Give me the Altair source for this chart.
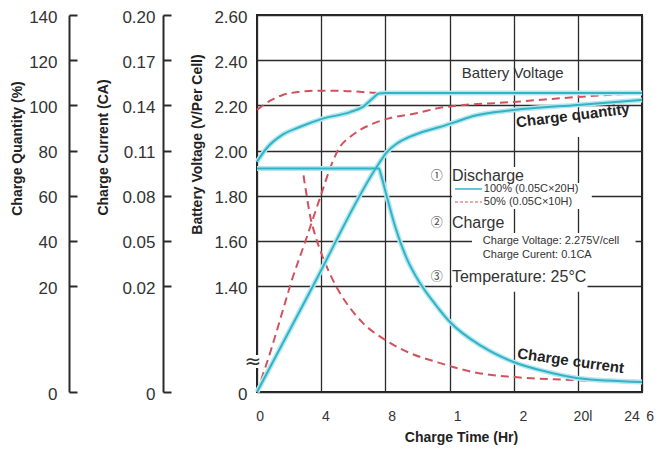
import altair as alt
import pandas as pd

# ---------------- data ----------------
hour_grid = [0, 4, 8, 12, 16, 20, 24]
x_label_text = ["0", "4", "8", "1", "2", "20l", "24", "6"]
x_label_hours = [0.19, 4.3, 8.42, 12.5, 16.61, 20.32, 23.38, 24.5]

quantity_ticks = [0, 20, 40, 60, 80, 100, 120, 140]
current_labels = ["0", "0.02", "0.05", "0.08", "0.11", "0.14", "0.17", "0.20"]
voltage_labels = ["0", "1.40", "1.60", "1.80", "2.00", "2.20", "2.40", "2.60"]

# battery voltage (V/cell)
v100_h = [0, 0.6, 1.6, 2.7, 4.05, 5.8, 6.6, 7.2, 7.6, 8.0, 24]
v100_v = [1.95, 2.01, 2.07, 2.105, 2.14, 2.17, 2.193, 2.23, 2.252, 2.255, 2.255]
v50_h = [0, 0.8, 1.6, 2.7, 3.7, 5.35, 7.2, 7.6, 24]
v50_v = [2.18, 2.22, 2.246, 2.26, 2.265, 2.264, 2.256, 2.255, 2.255]

# charge quantity (%)
q100_h = [0, 3.49, 7.54, 8.1, 8.7, 9.5, 10.4, 11.4, 12.6, 13.5, 16.0, 20.0, 24.0]
q100_q = [0, 20, 73.6, 79.3, 83, 86, 88.4, 90.4, 93.2, 95.3, 97.9, 100.2, 102.4]
q50_h = [0, 0.93, 1.62, 2.18, 3.0, 4.05, 4.6, 5.17, 5.8, 6.42, 7.2, 8.1, 10.0, 11.5, 16.0, 20.0, 24.0]
q50_q = [0, 8.5, 15.5, 22.7, 39.5, 61.6, 73, 81.6, 86, 89.1, 91.8, 94, 96.6, 99, 101.5, 103.7, 105.5]

# charge current (CA)
c100_h = [0, 7.6, 7.73, 8.1, 8.6, 9.35, 10.16, 11.1, 12.03, 14.08, 15.95, 18.07, 20.0, 24.0]
c100_c = [0.098, 0.098, 0.0938, 0.0791, 0.0599, 0.0379, 0.022, 0.0166, 0.0132, 0.0085, 0.0057, 0.0038, 0.0026, 0.0019]
c50_h = [0, 2.8, 2.99, 3.3, 3.68, 4.05, 4.55, 5.17, 5.8, 6.61, 8.1, 9.53, 11.2, 13.46, 15.95, 19.7, 24.0]
c50_c = [0.098, 0.098, 0.0871, 0.0672, 0.0519, 0.0406, 0.028, 0.01868, 0.01585, 0.013, 0.00962, 0.00736, 0.00566, 0.00377, 0.00283, 0.00226, 0.0017]


# map every physical unit onto the shared (charge quantity %) axis
def volt_to_axis(v):
    return (v - 1.40) * 100 + 20


def current_to_axis(c):
    return c * 1000 if c < 0.02 else 20 + (c - 0.02) / 0.03 * 20


rows = []
def add(name, kind, hs, vals, conv):
    for i, (h, v) in enumerate(zip(hs, vals)):
        rows.append({"series": name, "kind": kind, "h": h, "val": conv(v), "i": i})

add("v100", "100", v100_h, v100_v, volt_to_axis)
add("v50", "50", v50_h, v50_v, volt_to_axis)
add("q100", "100", q100_h, q100_q, lambda q: q)
add("q50", "50", q50_h, q50_q, lambda q: q)
add("c100", "100", c100_h, c100_c, current_to_axis)
add("c50", "50", c50_h, c50_c, current_to_axis)
curves = pd.DataFrame(rows)

FONT = "Liberation Sans"
TEAL = "#33b2c4"
HALO = "#b3e8f0"
RED = "#d1525d"
INK = "#2b2b2b"

xscale = alt.Scale(domain=[0, 24], nice=False, zero=False)
yscale = alt.Scale(domain=[0, 20, 140], range=[377, 271, 0], nice=False, zero=False)


def X(f="h"):
    return alt.X(f"{f}:Q", scale=xscale, axis=None)


def Y(f="val"):
    return alt.Y(f"{f}:Q", scale=yscale, axis=None)


def label_expr(labels):
    parts = [f"datum.value == {v} ? '{t}'" for v, t in zip(quantity_ticks, labels)]
    return " : ".join(parts) + " : ''"


# white backgrounds behind annotation text (hide gridlines)
masks = pd.DataFrame({
    "h1": [12.15, 12.15, 12.15, 13.4, 12.15, -0.5, 19.7],
    "h2": [16.82, 20.87, 15.64, 23.6, 20.6, 0.35, 20.5],
    "q1": [64.7, 54.1, 43.9, 30.6, 18.9, 4.53, 86.0],
    "q2": [72.7, 65.6, 51.9, 43.5, 30.6, 6.98, 96.0],
})
mask_layer = alt.Chart(masks).mark_rect(color="white").encode(
    x=X("h1"), x2="h2", y=Y("q1"), y2="q2")

red = alt.Chart(curves[curves.kind == "50"]).mark_line(
    color=RED, strokeWidth=2, strokeDash=[8, 5], interpolate="monotone").encode(
    x=X(), y=Y(), detail="series:N", order="i:Q")
teal_halo = alt.Chart(curves[curves.kind == "100"]).mark_line(
    color=HALO, strokeWidth=5, interpolate="monotone").encode(
    x=X(), y=Y(), detail="series:N", order="i:Q")
teal = alt.Chart(curves[curves.kind == "100"]).mark_line(
    color=TEAL, strokeWidth=2, interpolate="monotone").encode(
    x=X(), y=Y(), detail="series:N", order="i:Q")

# legend sample lines
leg = pd.DataFrame({"h": [12.34, 14.02, 12.34, 14.02], "val": [62.96, 62.96, 57.2, 57.2],
                    "k": ["a", "a", "b", "b"]})
leg_teal = alt.Chart(leg[leg.k == "a"]).mark_line(color=TEAL, strokeWidth=1.5).encode(x=X(), y=Y())
leg_red = alt.Chart(leg[leg.k == "b"]).mark_line(color=RED, strokeWidth=1, strokeDash=[3, 2]).encode(x=X(), y=Y())


def text(t, h, q, size, align="left", weight="normal", angle=0, font=FONT, color="#333"):
    d = pd.DataFrame({"h": [h], "val": [q], "t": [t]})
    return alt.Chart(d).mark_text(align=align, baseline="middle", fontSize=size,
                                  fontWeight=weight, angle=angle, font=font,
                                  color=color).encode(x=X(), y=Y(), text="t:N")


texts = [
    text("Battery Voltage", 12.77, 114.3, 15),
    text("Charge quantity", 19.69, 95.5, 15, align="center", weight="bold", angle=353, color="#222"),
    text("Charge current", 19.56, 5.9, 15, align="center", weight="bold", angle=8, color="#222"),
    text("①", 11.21, 68.7, 12, align="center", font="Noto Sans CJK JP", color="#444"),
    text("Discharge", 12.15, 68.7, 16),
    text("100% (0.05C×20H)", 14.14, 62.96, 11),
    text("50% (0.05C×10H)", 14.14, 57.2, 11),
    text("②", 11.21, 47.9, 12, align="center", font="Noto Sans CJK JP", color="#444"),
    text("Charge", 12.15, 47.9, 16),
    text("Charge Voltage: 2.275V/cell", 14.08, 39.9, 11),
    text("Charge Curent: 0.1CA", 14.08, 33.7, 11),
    text("③", 11.21, 24.0, 12, align="center", font="Noto Sans CJK JP", color="#444"),
    text("Temperature: 25°C", 12.15, 24.0, 16),
    text("≈", -0.25, 5.66, 20, align="center", font="DejaVu Sans", color="#333"),
]

# x tick labels
xl = pd.DataFrame({"h": x_label_hours, "t": x_label_text})
x_labels = alt.Chart(xl).mark_text(font=FONT, fontSize=14, color="#333", baseline="middle",
                                   align="center").encode(x=X(), y=alt.value(402), text="t:N")

# axes
tick_df = pd.DataFrame({"q": quantity_ticks, "h": [0] * len(quantity_ticks)})
common_lbl = dict(labelFont=FONT, labelFontSize=17, labelColor="#333", titleFont=FONT,
                  titleFontSize=14, titleFontWeight="bold", titleColor="#222",
                  titleBaseline="middle", values=quantity_ticks, labelOffset=2)


def axis_layer(axis):
    return alt.Chart(tick_df).mark_point(opacity=0).encode(
        x=alt.value(0), y=alt.Y("q:Q", scale=yscale, axis=axis))


ax_voltage = axis_layer(alt.Axis(orient="left", offset=0, labelExpr=label_expr(voltage_labels),
                                 title="Battery Voltage (V/Per Cell)", titleX=-60, titleY=129,
                                 domain=False, ticks=False, tickSize=0, labelPadding=10,
                                 grid=True, gridColor=INK, gridWidth=1.3, **common_lbl))
ax_current = axis_layer(alt.Axis(orient="left", offset=94, labelExpr=label_expr(current_labels),
                                 title="Charge Current (CA)", titleX=-60, titleY=132,
                                 domain=False, ticks=False, tickSize=0, labelPadding=8,
                                 grid=False, **common_lbl))
ax_quantity = axis_layer(alt.Axis(orient="left", offset=188,
                                  title="Charge Quantity (%)", titleX=-52, titleY=133,
                                  domain=False, ticks=False, tickSize=0, labelPadding=12,
                                  grid=False, **common_lbl))
bracket = dict(labels=False, ticks=True, tickSize=8, tickWidth=2, tickColor=INK, domain=True,
               domainWidth=2, domainColor=INK, grid=False, title=None, values=quantity_ticks)
br_current = axis_layer(alt.Axis(orient="right", offset=-479, **bracket))
br_quantity = axis_layer(alt.Axis(orient="right", offset=-573, **bracket))

ax_x = alt.Chart(pd.DataFrame({"h": hour_grid})).mark_point(opacity=0).encode(
    x=alt.X("h:Q", scale=xscale,
            axis=alt.Axis(values=hour_grid, grid=True, gridColor=INK, gridWidth=1.3,
                          labels=False, ticks=False, domain=False,
                          title="Charge Time (Hr)", titleFont=FONT, titleFontSize=14,
                          titleFontWeight="bold", titleColor="#222", titleX=204, titleY=45,
                          titleBaseline="middle")),
    y=alt.value(0))

chart = alt.layer(
    ax_x, ax_voltage, ax_current, ax_quantity, br_current, br_quantity,
    mask_layer, red, teal_halo, teal, leg_teal, leg_red, *texts, x_labels
).resolve_axis(y="independent", x="independent").properties(
    width=385, height=377,
    padding={"left": 257, "top": 15, "right": 20, "bottom": 57},
    autosize=alt.AutoSizeParams(type="none"),
    background="white",
).configure_view(stroke="#222", strokeWidth=2)

chart.save("out.html", embed_options={"renderer": "svg", "actions": False})
